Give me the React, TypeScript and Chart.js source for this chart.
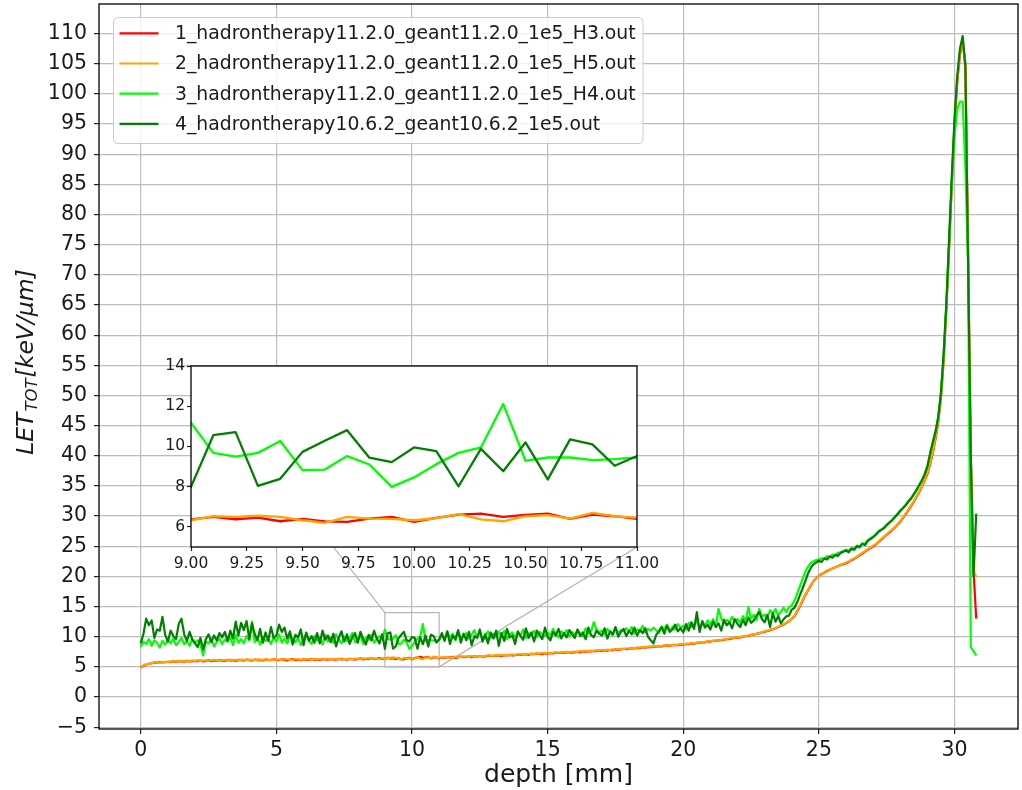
import React, { useEffect, useRef } from "react";
import { Chart, registerables } from "chart.js";

Chart.register(...registerables);

// ---------- data ----------
const seriesNames = [
  "1_hadrontherapy11.2.0_geant11.2.0_1e5_H3.out",
  "2_hadrontherapy11.2.0_geant11.2.0_1e5_H5.out",
  "3_hadrontherapy11.2.0_geant11.2.0_1e5_H4.out",
  "4_hadrontherapy10.6.2_geant10.6.2_1e5.out",
];
const seriesColors = ["#ff0000", "#ffa500", "#00ff00", "#008000"];

// depth step of the scoring grid [mm]
const depthStep = 0.1;

// LET (keV/um), one value per 0.1 mm from 0.0 to 30.8 mm
const letH3 = [
  4.9, 5.2, 5.4, 5.5, 5.6, 5.7, 5.65, 5.8, 5.75, 5.8,
  5.85, 5.8, 5.9, 5.85, 5.95, 5.9, 5.85, 6.0, 5.9, 5.95,
  6.0, 5.95, 6.05, 5.9, 6.0, 6.1, 5.95, 6.05, 6.0, 6.1,
  6.05, 6.0, 6.15, 6.05, 6.1, 6.0, 6.15, 6.1, 6.05, 6.2,
  6.1, 6.05, 6.2, 6.1, 6.15, 6.05, 6.2, 6.15, 6.1, 6.25,
  6.15, 6.1, 6.25, 6.15, 6.05, 6.2, 6.3, 6.15, 6.2, 6.1,
  6.25, 6.2, 6.15, 6.3, 6.2, 6.25, 6.15, 6.3, 6.25, 6.2,
  6.3, 6.25, 6.2, 6.35, 6.25, 6.3, 6.2, 6.35, 6.3, 6.25,
  6.3, 6.4, 6.25, 6.35, 6.3, 6.4, 6.3, 6.35, 6.45, 6.3,
  6.37, 6.5, 6.38, 6.46, 6.28, 6.4, 6.27, 6.25, 6.41, 6.5,
  6.25, 6.45, 6.61, 6.66, 6.5, 6.6, 6.66, 6.4, 6.61, 6.53,
  6.4, 6.55, 6.5, 6.6, 6.55, 6.65, 6.5, 6.6, 6.7, 6.6,
  6.65, 6.7, 6.6, 6.75, 6.7, 6.8, 6.7, 6.75, 6.85, 6.8,
  6.8, 6.9, 6.85, 6.8, 6.95, 6.9, 7.0, 6.9, 6.95, 7.05,
  7.0, 7.05, 7.1, 7.0, 7.15, 7.1, 7.2, 7.15, 7.1, 7.25,
  7.2, 7.3, 7.25, 7.35, 7.3, 7.4, 7.3, 7.45, 7.4, 7.35,
  7.45, 7.5, 7.4, 7.55, 7.5, 7.6, 7.55, 7.65, 7.6, 7.7,
  7.65, 7.75, 7.7, 7.8, 7.75, 7.9, 7.85, 7.9, 8.0, 7.95,
  8.0, 8.1, 8.05, 8.15, 8.1, 8.25, 8.2, 8.3, 8.25, 8.4,
  8.35, 8.45, 8.4, 8.5, 8.55, 8.5, 8.6, 8.65, 8.6, 8.7,
  8.7, 8.8, 8.75, 8.9, 8.85, 9.0, 9.0, 9.1, 9.05, 9.2,
  9.2, 9.3, 9.3, 9.4, 9.45, 9.5, 9.6, 9.6, 9.7, 9.8,
  9.85, 9.9, 10.0, 10.1, 10.15, 10.3, 10.35, 10.5, 10.6, 10.7,
  10.85, 10.95, 11.1, 11.25, 11.4, 11.6, 11.8, 12.0, 12.3, 12.6,
  13.0, 13.4, 14.2, 15.0, 16.0, 16.9, 17.7, 18.5, 19.2, 19.7,
  20.1, 20.4, 20.6, 20.9, 21.1, 21.3, 21.5, 21.7, 21.9, 22.0,
  22.2, 22.4, 22.7, 22.9, 23.2, 23.5, 23.8, 24.1, 24.4, 24.7,
  25.0, 25.3, 25.7, 26.1, 26.5, 26.9, 27.3, 27.7, 28.1, 28.6,
  29.1, 29.7, 30.3, 31.0, 31.7, 32.4, 33.2, 34.0, 34.9, 35.9,
  37.0, 38.6, 40.5, 42.8, 45.6, 49.6, 55.8, 64.5, 74.5, 85.0,
  94.5, 102.0, 106.5, 108.8, 105.0, 74.0, 40.0, 21.0, 13.0,
];

const letH5 = [
  4.95, 5.25, 5.45, 5.5, 5.65, 5.7, 5.75, 5.7, 5.8, 5.85,
  5.8, 5.9, 5.85, 5.95, 5.9, 6.0, 5.95, 5.9, 6.0, 6.05,
  5.95, 6.1, 6.0, 6.05, 6.1, 6.0, 6.1, 6.15, 6.05, 6.0,
  6.1, 6.15, 6.05, 6.2, 6.1, 6.15, 6.05, 6.2, 6.15, 6.1,
  6.2, 6.15, 6.1, 6.25, 6.2, 6.15, 6.25, 6.1, 6.2, 6.15,
  6.25, 6.2, 6.15, 6.3, 6.25, 6.15, 6.2, 6.3, 6.25, 6.2,
  6.2, 6.3, 6.25, 6.2, 6.35, 6.25, 6.3, 6.2, 6.35, 6.3,
  6.25, 6.35, 6.3, 6.25, 6.4, 6.3, 6.35, 6.3, 6.25, 6.4,
  6.35, 6.3, 6.4, 6.35, 6.45, 6.3, 6.4, 6.35, 6.3, 6.45,
  6.33, 6.53, 6.5, 6.56, 6.5, 6.33, 6.2, 6.5, 6.41, 6.4,
  6.33, 6.43, 6.63, 6.37, 6.28, 6.53, 6.58, 6.41, 6.7, 6.53,
  6.46, 6.6, 6.55, 6.65, 6.5, 6.6, 6.7, 6.6, 6.65, 6.75,
  6.7, 6.65, 6.8, 6.7, 6.75, 6.85, 6.75, 6.8, 6.9, 6.85,
  6.85, 6.95, 6.9, 7.0, 6.9, 7.0, 6.95, 7.05, 7.0, 7.1,
  7.05, 7.1, 7.15, 7.1, 7.2, 7.15, 7.25, 7.2, 7.3, 7.25,
  7.3, 7.25, 7.35, 7.4, 7.35, 7.45, 7.4, 7.5, 7.45, 7.5,
  7.55, 7.5, 7.6, 7.55, 7.65, 7.6, 7.7, 7.65, 7.75, 7.7,
  7.8, 7.75, 7.85, 7.8, 7.9, 7.85, 7.95, 8.0, 7.95, 8.05,
  8.05, 8.15, 8.1, 8.2, 8.2, 8.3, 8.25, 8.35, 8.35, 8.4,
  8.45, 8.4, 8.5, 8.55, 8.5, 8.6, 8.65, 8.6, 8.7, 8.75,
  8.75, 8.8, 8.85, 8.9, 8.95, 9.0, 9.05, 9.1, 9.15, 9.2,
  9.25, 9.3, 9.35, 9.4, 9.5, 9.55, 9.6, 9.7, 9.75, 9.85,
  9.9, 9.95, 10.05, 10.1, 10.2, 10.3, 10.4, 10.5, 10.6, 10.75,
  10.9, 11.0, 11.15, 11.3, 11.45, 11.65, 11.85, 12.05, 12.35, 12.65,
  13.0, 13.5, 14.3, 15.1, 16.1, 17.0, 17.8, 18.6, 19.2, 19.7,
  20.1, 20.3, 20.6, 20.8, 21.1, 21.3, 21.5, 21.7, 21.9, 22.1,
  22.3, 22.5, 22.8, 23.0, 23.3, 23.6, 23.9, 24.2, 24.5, 24.8,
  25.1, 25.4, 25.8, 26.2, 26.6, 27.0, 27.4, 27.8, 28.2, 28.7,
  29.2, 29.8, 30.4, 31.1, 31.8, 32.5, 33.3, 34.1, 35.0, 36.0,
  37.2, 38.8, 40.7, 43.0, 45.8, 49.8, 56.0, 64.8, 74.8, 85.3,
  95.0, 102.3, 106.8, 109.0, 104.2, 73.0, 40.0, 21.0, 19.9,
];

const letH4 = [
  8.3, 9.2, 8.8, 9.6, 8.5, 9.4, 9.0, 8.2, 9.3, 8.7,
  9.5, 8.9, 9.7, 8.6, 9.1, 9.8, 8.8, 9.3, 8.5, 9.6,
  9.0, 9.4, 8.7, 6.9, 9.2, 8.9, 9.6, 8.4, 9.1, 9.7,
  8.8, 9.5, 9.2, 9.9, 8.6, 10.3, 9.0, 9.6, 8.9, 10.1,
  9.4, 12.5, 9.1, 9.8, 8.7, 10.0, 9.3, 9.6, 8.8, 9.9,
  9.2, 10.4, 9.0, 9.7, 8.9, 10.2, 9.5, 9.1, 9.8, 8.6,
  9.6, 10.5, 9.3, 8.8, 10.1, 9.4, 9.9, 8.7, 10.3, 9.2,
  9.8, 9.0, 10.4, 9.5, 8.9, 10.0, 9.3, 9.7, 10.6, 9.1,
  9.4, 10.2, 8.8, 9.9, 9.5, 10.3, 9.0, 9.6, 10.1, 9.7,
  11.18, 9.68, 9.49, 9.68, 10.27, 8.82, 8.85, 9.52, 9.1, 7.99,
  8.46, 9.12, 9.68, 9.95, 12.11, 9.29, 9.45, 9.45, 9.32, 9.37,
  9.45, 10.3, 9.6, 10.8, 9.9, 10.5, 9.4, 10.9, 9.8, 10.2,
  10.6, 9.7, 10.4, 11.1, 9.9, 10.7, 9.5, 10.3, 10.9, 9.8,
  10.5, 9.9, 10.8, 10.1, 11.0, 9.6, 10.4, 10.7, 9.9, 10.6,
  10.2, 11.2, 9.8, 10.6, 10.3, 11.0, 9.9, 10.8, 10.4, 10.1,
  10.7, 10.2, 11.3, 10.5, 9.9, 10.9, 10.4, 11.1, 10.0, 10.8,
  10.3, 11.0, 10.6, 10.1, 11.4, 10.5, 10.9, 12.4, 11.2, 10.7,
  11.0, 10.4, 11.3, 10.8, 10.2, 11.5, 10.6, 11.1, 10.9, 11.4,
  10.8, 11.6, 10.5, 11.2, 10.9, 11.8, 10.7, 11.3, 11.0, 11.5,
  11.1, 10.6, 11.7, 11.3, 12.0, 11.0, 11.6, 11.2, 12.1, 11.5,
  11.8, 11.2, 12.3, 11.6, 12.0, 12.6, 11.5, 12.2, 11.9, 12.7,
  12.0, 12.9, 11.8, 14.6, 13.1, 12.2, 12.8, 12.4, 13.3, 12.6,
  12.9, 12.3, 13.4, 12.7, 14.9, 13.0, 13.6, 12.8, 14.6, 13.3,
  13.7, 13.2, 14.4, 13.8, 14.6, 13.5, 14.2, 14.8, 14.1, 14.9,
  15.2, 16.0, 17.2, 18.4, 19.6, 20.8, 21.6, 22.2, 22.5, 22.7,
  22.8, 23.0, 22.9, 23.4, 23.2, 23.6, 23.5, 23.9, 24.0, 24.2,
  24.4, 24.3, 24.7, 24.6, 25.1, 25.0, 25.5, 25.4, 26.0, 26.3,
  26.6, 27.0, 27.5, 27.8, 28.1, 28.6, 29.0, 29.4, 29.9, 30.4,
  30.8, 31.4, 31.9, 32.5, 33.0, 33.7, 34.4, 35.2, 36.0, 37.0,
  38.3, 40.3, 42.3, 44.1, 46.5, 50.4, 56.8, 65.0, 75.0, 85.5,
  93.0, 97.5, 98.7, 98.7, 88.0, 72.0, 8.3, 7.6, 6.9,
];

const letG1062 = [
  8.9, 10.5, 13.0, 11.9, 12.7, 9.8, 11.2, 11.0, 13.3, 10.3,
  9.2, 11.0, 10.1, 9.6, 12.1, 13.0, 10.4, 9.3, 10.8, 9.5,
  8.9, 8.3, 9.8, 7.9, 9.6, 10.4, 9.1, 10.2, 9.4, 10.6,
  9.9, 10.8, 9.3, 11.0, 9.7, 12.5, 10.2, 12.3, 11.1, 12.6,
  9.6, 12.2, 10.5, 9.4, 11.3, 9.0, 10.7, 9.3, 11.6, 9.8,
  10.2, 12.0, 10.8, 11.5, 9.7, 10.9, 8.7, 10.3, 9.9, 11.2,
  8.6, 10.7, 9.3, 10.1, 9.0, 10.6, 8.9, 11.0, 9.5, 10.2,
  9.1, 10.5, 8.4, 9.8, 10.9, 9.2, 10.4, 8.8, 9.9, 10.6,
  9.0, 10.8, 9.6, 8.7, 10.3, 9.4, 11.0, 9.7, 8.9, 10.4,
  7.99, 10.56, 10.71, 8.04, 8.39, 9.73, 10.28, 10.81, 9.44, 9.22,
  9.95, 9.77, 8.02, 9.88, 8.77, 10.2, 8.36, 10.35, 10.1, 9.04,
  9.52, 10.6, 9.3, 10.9, 8.8, 10.2, 9.6, 11.1, 9.0, 10.5,
  9.4, 10.8, 8.6, 10.1, 9.8, 11.2, 9.2, 10.4, 8.9, 10.7,
  9.7, 11.0, 8.5, 10.6, 9.3, 11.3, 9.9, 10.2, 8.8, 10.9,
  10.1, 9.5, 11.4, 9.8, 10.7, 9.2, 11.0, 10.3, 9.6, 11.5,
  10.0, 9.4, 10.8, 10.2, 11.3, 9.7, 10.6, 9.9, 11.1, 10.4,
  9.8, 11.2, 10.1, 10.7, 9.6, 11.5, 10.3, 9.9, 11.0, 10.5,
  10.2, 11.4, 9.7, 10.9, 10.4, 11.6, 10.0, 10.8, 11.3, 10.1,
  11.0, 10.4, 11.5, 10.2, 11.1, 10.6, 11.4, 10.0, 9.4, 8.9,
  10.3, 10.9, 11.6, 10.5, 11.8, 10.8, 11.2, 12.0, 10.9, 11.4,
  10.7, 12.1, 11.0, 12.4, 11.3, 14.1, 10.8, 12.6, 11.5, 12.0,
  11.2, 12.5, 11.6, 12.2, 11.0, 12.8, 11.9, 12.4, 11.4, 12.9,
  12.1, 11.6, 12.8, 11.9, 13.2, 12.3, 12.7, 13.5, 14.1, 12.9,
  12.4, 13.6, 11.6, 13.9, 12.5, 13.4, 12.2, 12.9, 13.4, 13.5,
  14.5, 14.8, 15.7, 16.9, 18.0, 19.2, 20.5, 21.4, 22.0, 22.3,
  22.6, 22.4, 23.0, 22.8, 23.3, 23.1, 23.6, 23.4, 23.9, 24.1,
  24.3, 24.0, 24.6, 24.4, 25.0, 24.8, 25.4, 25.2, 25.9, 26.2,
  26.5, 26.9, 27.4, 27.7, 28.0, 28.5, 28.9, 29.3, 29.8, 30.3,
  30.9, 31.3, 31.8, 32.4, 32.9, 33.6, 34.3, 35.1, 35.9, 36.9,
  38.2, 40.4, 42.2, 44.0, 46.4, 50.5, 57.0, 65.5, 76.0, 86.5,
  96.0, 103.0, 107.5, 109.6, 104.5, 72.0, 40.0, 20.0, 30.4,
];

const xTicks = [0, 5, 10, 15, 20, 25, 30];
const yTicks = [-5, 0, 5, 10, 15, 20, 25, 30, 35, 40, 45, 50, 55, 60, 65, 70, 75, 80, 85, 90, 95, 100, 105, 110];
const insetXTicks = [9, 9.25, 9.5, 9.75, 10, 10.25, 10.5, 10.75, 11];
const insetYTicks = [6, 8, 10, 12, 14];
const insetXRange = [9, 11];
const insetYRange = [5, 14];
const mainXRange = [-1.54, 32.34];
const mainYRange = [-5.3, 114.9];

const seriesValues = [letH3, letH5, letH4, letG1062];

// ---------- layout / style ----------
const FONT = "'DejaVu Sans', sans-serif";
const TEXT = "#1a1a1a";
const INSET_BOX = { left: 191, top: 366, right: 637, bottom: 547 };
const INSET_CANVAS = { left: 140, top: 350, width: 540, height: 235 };

const depthOf = (j: number) => Math.round(j * depthStep * 10) / 10;

function makeDatasets(width: number) {
  const n = seriesValues.length;
  return seriesValues.map((vals, i) => ({
    label: seriesNames[i],
    data: vals.map((v, j) => ({ x: depthOf(j), y: v })),
    borderColor: seriesColors[i],
    backgroundColor: seriesColors[i],
    borderWidth: width,
    pointRadius: 0,
    pointHoverRadius: 0,
    tension: 0,
    fill: false,
    clip: 0,
    order: n - 1 - i, // later series painted on top, like the original
    borderJoinStyle: "round" as const,
  }));
}

const fmtMinus = (v: number) => (v < 0 ? "\u2212" + Math.abs(v) : String(v));

const noPad = (s: any) => {
  s.paddingTop = 0;
  s.paddingBottom = 0;
  s.paddingLeft = 0;
  s.paddingRight = 0;
};

const mainDecor = {
  id: "mainDecor",
  beforeDatasetsDraw(chart: any) {
    const { ctx, scales } = chart;
    const x0 = scales.x.getPixelForValue(insetXRange[0]);
    const x1 = scales.x.getPixelForValue(insetXRange[1]);
    const y0 = scales.y.getPixelForValue(insetYRange[1]);
    const y1 = scales.y.getPixelForValue(insetYRange[0]);
    ctx.save();
    ctx.strokeStyle = "#b4b4b4";
    ctx.lineWidth = 1.2;
    ctx.strokeRect(x0, y0, x1 - x0, y1 - y0);
    ctx.beginPath();
    ctx.moveTo(x0, y0);
    ctx.lineTo(INSET_BOX.left, INSET_BOX.top);
    ctx.moveTo(x1, y1);
    ctx.lineTo(INSET_BOX.right, INSET_BOX.bottom);
    ctx.stroke();
    ctx.restore();
  },
  afterDatasetsDraw(chart: any) {
    const { ctx, chartArea: a } = chart;
    ctx.save();
    ctx.strokeStyle = "#000";
    ctx.lineWidth = 1.3;
    ctx.strokeRect(a.left, a.top, a.right - a.left, a.bottom - a.top);
    ctx.restore();
  },
  afterDraw(chart: any) {
    const { ctx } = chart;
    // legend
    ctx.save();
    const bx = 113.5, by = 17.5, bw = 529.5, bh = 126;
    ctx.beginPath();
    (ctx as any).roundRect(bx, by, bw, bh, 4);
    ctx.fillStyle = "rgba(255,255,255,0.8)";
    ctx.fill();
    ctx.strokeStyle = "#cccccc";
    ctx.lineWidth = 1;
    ctx.stroke();
    ctx.font = `18.8px ${FONT}`;
    ctx.textBaseline = "middle";
    ctx.textAlign = "left";
    seriesNames.forEach((name, i) => {
      const cy = 33.3 + i * 30.2;
      ctx.strokeStyle = seriesColors[i];
      ctx.lineWidth = 2.2;
      ctx.beginPath();
      ctx.moveTo(119.5, cy);
      ctx.lineTo(158.5, cy);
      ctx.stroke();
      ctx.fillStyle = TEXT;
      ctx.fillText(name, 175, cy + 1);
    });
    ctx.restore();

    // y-axis title: LET_TOT [keV/μm] (italic, subscript)
    ctx.save();
    ctx.translate(33, 362);
    ctx.rotate(-Math.PI / 2);
    ctx.fillStyle = TEXT;
    ctx.textBaseline = "alphabetic";
    ctx.textAlign = "left";
    const big = `italic 23.5px ${FONT}`;
    const small = `italic 16.5px ${FONT}`;
    ctx.font = big;
    const w1 = ctx.measureText("LET").width;
    const w3 = ctx.measureText("[keV/\u03bcm]").width;
    ctx.font = small;
    const w2 = ctx.measureText("TOT").width;
    const total = w1 + w2 + w3 + 2;
    let px = -total / 2;
    ctx.font = big;
    ctx.fillText("LET", px, 0);
    px += w1 + 1;
    ctx.font = small;
    ctx.fillText("TOT", px, 3.5);
    px += w2 + 1;
    ctx.font = big;
    ctx.fillText("[keV/\u03bcm]", px, 0);
    ctx.restore();
  },
};

const insetDecor = {
  id: "insetDecor",
  beforeDraw(chart: any) {
    const { ctx, chartArea: a } = chart;
    ctx.save();
    ctx.fillStyle = "#ffffff";
    ctx.fillRect(a.left, a.top, a.right - a.left, a.bottom - a.top);
    ctx.restore();
  },
  afterDatasetsDraw(chart: any) {
    const { ctx, chartArea: a } = chart;
    ctx.save();
    ctx.strokeStyle = "#000";
    ctx.lineWidth = 1.3;
    ctx.strokeRect(a.left, a.top, a.right - a.left, a.bottom - a.top);
    ctx.restore();
  },
};

export default function App() {
  const mainRef = useRef<HTMLCanvasElement>(null);
  const insetRef = useRef<HTMLCanvasElement>(null);

  useEffect(() => {
    const gridMain = {
      color: "#bcbcbc",
      lineWidth: 1.2,
      drawTicks: true,
      tickLength: 5,
      tickColor: "#222",
      tickWidth: 1.2,
    };
    const main = new Chart(mainRef.current as HTMLCanvasElement, {
      type: "line",
      data: { datasets: makeDatasets(2.2) as any },
      plugins: [mainDecor],
      options: {
        responsive: false,
        animation: false,
        events: [],
        layout: { padding: { left: 0, top: 4, right: 4, bottom: 0 } },
        plugins: { legend: { display: false }, tooltip: { enabled: false } },
        scales: {
          x: {
            type: "linear",
            min: mainXRange[0],
            max: mainXRange[1],
            afterFit: (s: any) => { s.height = 61; noPad(s); },
            afterBuildTicks: (s: any) => { s.ticks = xTicks.map((v) => ({ value: v })); },
            grid: gridMain,
            border: { display: false },
            ticks: {
              font: { family: FONT, size: 20.5 },
              color: TEXT,
              padding: 4,
              maxRotation: 0,
              autoSkip: false,
              callback: (v: any) => fmtMinus(Number(v)),
            },
            title: {
              display: true,
              text: "depth [mm]",
              font: { family: FONT, size: 25 },
              color: TEXT,
              padding: { top: 0, bottom: 0 },
            },
          },
          y: {
            type: "linear",
            min: mainYRange[0],
            max: mainYRange[1],
            afterFit: (s: any) => { s.width = 99; noPad(s); },
            afterBuildTicks: (s: any) => { s.ticks = yTicks.map((v) => ({ value: v })); },
            grid: gridMain,
            border: { display: false },
            ticks: {
              font: { family: FONT, size: 20.5 },
              color: TEXT,
              padding: 7,
              autoSkip: false,
              callback: (v: any) => fmtMinus(Number(v)),
            },
          },
        },
      } as any,
    });

    const gridInset = {
      drawOnChartArea: false,
      drawTicks: true,
      tickLength: 4,
      tickColor: "#222",
      tickWidth: 1.2,
    };
    const inset = new Chart(insetRef.current as HTMLCanvasElement, {
      type: "line",
      data: { datasets: makeDatasets(2.3) as any },
      plugins: [insetDecor],
      options: {
        responsive: false,
        animation: false,
        events: [],
        layout: {
          padding: {
            left: 0,
            top: INSET_BOX.top - INSET_CANVAS.top,
            right: INSET_CANVAS.left + INSET_CANVAS.width - INSET_BOX.right,
            bottom: 0,
          },
        },
        plugins: { legend: { display: false }, tooltip: { enabled: false } },
        scales: {
          x: {
            type: "linear",
            min: insetXRange[0],
            max: insetXRange[1],
            afterFit: (s: any) => { s.height = INSET_CANVAS.top + INSET_CANVAS.height - INSET_BOX.bottom; noPad(s); },
            afterBuildTicks: (s: any) => { s.ticks = insetXTicks.map((v) => ({ value: v })); },
            grid: gridInset,
            border: { display: false },
            ticks: {
              font: { family: FONT, size: 15.5 },
              color: TEXT,
              padding: 4,
              maxRotation: 0,
              autoSkip: false,
              callback: (v: any) => Number(v).toFixed(2),
            },
          },
          y: {
            type: "linear",
            min: insetYRange[0],
            max: insetYRange[1],
            afterFit: (s: any) => { s.width = INSET_BOX.left - INSET_CANVAS.left; noPad(s); },
            afterBuildTicks: (s: any) => { s.ticks = insetYTicks.map((v) => ({ value: v })); },
            grid: gridInset,
            border: { display: false },
            ticks: {
              font: { family: FONT, size: 15.5 },
              color: TEXT,
              padding: 2,
              autoSkip: false,
              callback: (v: any) => String(v),
            },
          },
        },
      } as any,
    });

    return () => {
      main.destroy();
      inset.destroy();
    };
  }, []);

  return (
    <div style={{ position: "absolute", left: 0, top: 0, width: 1022, height: 790, background: "#ffffff" }}>
      <canvas ref={mainRef} width={1022} height={790} style={{ position: "absolute", left: 0, top: 0 }} />
      <canvas
        ref={insetRef}
        width={INSET_CANVAS.width}
        height={INSET_CANVAS.height}
        style={{ position: "absolute", left: INSET_CANVAS.left, top: INSET_CANVAS.top }}
      />
    </div>
  );
}
